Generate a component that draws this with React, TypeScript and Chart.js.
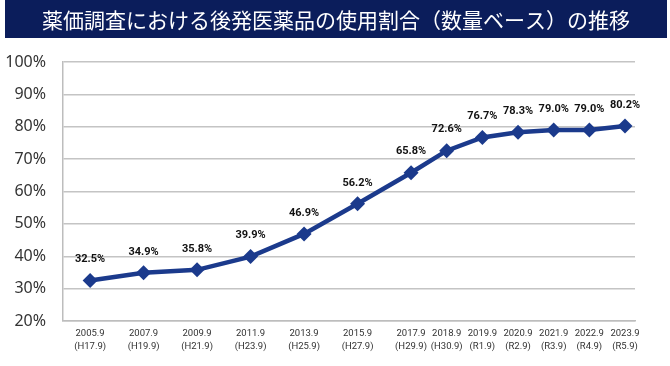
import React, { useEffect, useRef } from "react";
import { Chart, registerables } from "chart.js";

Chart.register(...registerables);

const TITLE = "薬価調査における後発医薬品の使用割合（数量ベース）の推移";
const yearLabels = ["2005.9", "2007.9", "2009.9", "2011.9", "2013.9", "2015.9", "2017.9", "2018.9", "2019.9", "2020.9", "2021.9", "2022.9", "2023.9"];
const eraLabels = ["(H17.9)", "(H19.9)", "(H21.9)", "(H23.9)", "(H25.9)", "(H27.9)", "(H29.9)", "(H30.9)", "(R1.9)", "(R2.9)", "(R3.9)", "(R4.9)", "(R5.9)"];
// horizontal slot of each survey on the chart's axis (2-year gaps drawn 1.5x the 1-year gaps)
const xSlots = [0, 1.5, 3, 4.5, 6, 7.5, 9, 10, 11, 12, 13, 14, 15];
const shares = [32.5, 34.9, 35.8, 39.9, 46.9, 56.2, 65.8, 72.6, 76.7, 78.3, 79.0, 79.0, 80.2];
const yTicks = [20, 30, 40, 50, 60, 70, 80, 90, 100];

const NAVY = "#1b3a8c";

export default function App() {
  const ref = useRef<HTMLCanvasElement>(null);

  useEffect(() => {
    document.body.style.margin = "0";
    const canvas = ref.current!;
    const titlePlugin = {
      id: "titleBar",
      beforeDraw(chart: any) {
        const ctx = chart.ctx;
        ctx.save();
        ctx.fillStyle = "#ffffff";
        ctx.fillRect(0, 0, chart.width, chart.height);
        ctx.fillStyle = "#0b1d5b";
        ctx.fillRect(5, 0, 662, 38);
        ctx.fillStyle = "#ffffff";
        ctx.font = '21px "Noto Sans CJK JP"';
        ctx.textAlign = "center";
        ctx.textBaseline = "middle";
        ctx.fillText(TITLE, 336, 20);
        ctx.restore();
      },
    };
    const labelPlugin = {
      id: "valueLabels",
      afterDatasetsDraw(chart: any) {
        const ctx = chart.ctx;
        const meta = chart.getDatasetMeta(0);
        ctx.save();
        ctx.font = "bold 11px Roboto";
        ctx.fillStyle = "#111111";
        ctx.textAlign = "center";
        ctx.textBaseline = "middle";
        meta.data.forEach((pt: any, i: number) => {
          ctx.fillText(shares[i].toFixed(1) + "%", pt.x, pt.y - 21);
        });
        ctx.restore();
      },
    };
    const chart = new Chart(canvas, {
      type: "line",
      data: {
        datasets: [
          {
            data: xSlots.map((x, i) => ({ x, y: shares[i] })),
            borderColor: NAVY,
            backgroundColor: NAVY,
            borderWidth: 4.5,
            pointStyle: "rectRot",
            pointRadius: 7.5,
            pointBorderWidth: 0,
            tension: 0,
          },
        ],
      },
      options: {
        responsive: false,
        animation: false,
        layout: { padding: { top: 62, right: 35, left: 0, bottom: 0 } },
        plugins: { legend: { display: false }, tooltip: { enabled: false }, title: { display: false } },
        scales: {
          x: {
            type: "linear",
            min: -0.76,
            max: 15.28,
            grid: { display: false, drawTicks: false },
            border: { display: true, color: "#bdbdbd", width: 1.5 },
            afterBuildTicks(scale: any) {
              scale.ticks = xSlots.map((v) => ({ value: v }));
            },
            afterFit(scale: any) {
              scale.height = 45;
            },
            ticks: {
              autoSkip: false,
              maxRotation: 0,
              padding: 6,
              color: "#333333",
              font: { family: "Roboto", size: 9.5, lineHeight: 1.4 },
              callback(value: any) {
                const i = xSlots.indexOf(Number(value));
                return i >= 0 ? [yearLabels[i], eraLabels[i]] : "";
              },
            },
          },
          y: {
            min: 20,
            max: 100,
            afterBuildTicks(scale: any) {
              scale.ticks = yTicks.map((v) => ({ value: v }));
            },
            afterFit(scale: any) {
              scale.width = 63;
            },
            grid: { color: "#c4c4c4", lineWidth: 1.5, drawTicks: false },
            border: { display: true, color: "#bdbdbd", width: 1.5 },
            ticks: {
              padding: 17,
              color: "#333333",
              font: { family: "Noto Sans", size: 16 },
              callback(value: any) {
                return value + "%";
              },
            },
          },
        },
      },
      plugins: [titlePlugin, labelPlugin],
    } as any);
    return () => chart.destroy();
  }, []);

  return (
    <div style={{ width: 670, height: 366 }}>
      <canvas ref={ref} width={670} height={366} style={{ display: "block" }} />
    </div>
  );
}
